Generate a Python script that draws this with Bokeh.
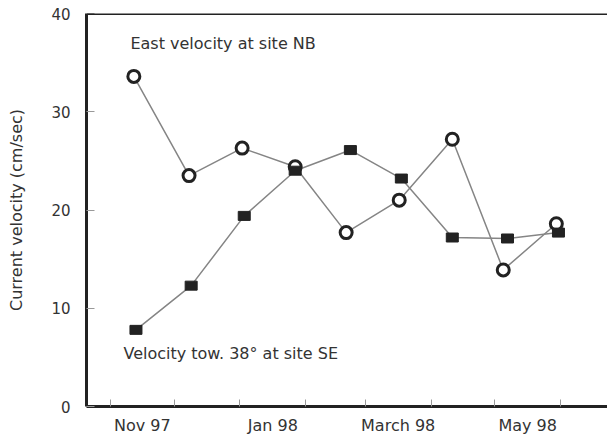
import pandas as pd
from bokeh.plotting import figure
from bokeh.models import FixedTicker, Range1d, Span, Label
from bokeh.embed import file_html
from bokeh.resources import INLINE

# Sampling dates and current velocities (cm/sec)
dates_nb = ["1997-11-12", "1997-12-08", "1998-01-02", "1998-01-27", "1998-02-20",
            "1998-03-17", "1998-04-11", "1998-05-05", "1998-05-30"]
east_nb = [33.6, 23.5, 26.3, 24.4, 17.7, 21.0, 27.2, 13.9, 18.6]

dates_se = ["1997-11-13", "1997-12-09", "1998-01-03", "1998-01-27", "1998-02-22",
            "1998-03-18", "1998-04-11", "1998-05-07", "1998-05-31"]
tow38_se = [7.8, 12.3, 19.4, 24.0, 26.1, 23.2, 17.2, 17.1, 17.7]

month_starts = ["1997-11-01", "1997-12-01", "1998-01-01", "1998-02-01",
                "1998-03-01", "1998-04-01", "1998-05-01", "1998-06-01"]
month_labels = {"1997-11-01": "Nov 97", "1998-01-01": "Jan 98",
                "1998-03-01": "March 98", "1998-05-01": "May 98"}

origin = pd.Timestamp("1997-11-01")


def to_days(ds):
    return [float((pd.Timestamp(d) - origin).days) for d in ds]


x_nb = to_days(dates_nb)
x_se = to_days(dates_se)
starts = to_days(month_starts)

# month labels sit in the middle of their month
label_pos = {}
for i, m in enumerate(month_starts[:-1]):
    if m in month_labels:
        label_pos[(starts[i] + starts[i + 1]) / 2.0] = month_labels[m]

FONT = "DejaVu Sans"
INK = "#222222"
TXT = "#333333"

p = figure(width=607, height=437, output_backend="svg", toolbar_location=None,
           x_range=Range1d(-11.3, 234.1), y_range=Range1d(0, 40),
           min_border_left=86, min_border_right=0, min_border_top=13,
           min_border_bottom=31)
p.outline_line_color = None
p.grid.grid_line_color = None
p.background_fill_color = "white"

# connecting lines
p.line(x_nb, east_nb, line_color="#858585", line_width=1.5)
p.line(x_se, tow38_se, line_color="#858585", line_width=1.5)

# open circles: east velocity at NB
p.scatter(x_nb, east_nb, marker="circle", size=12, fill_color="white",
          line_color=INK, line_width=3)
# filled squares: velocity toward 38 deg at SE
p.rect(x_se, tow38_se, width=12, height=9, width_units="screen",
       height_units="screen", fill_color=INK, line_color=INK)

# y axis
ya = p.yaxis[0]
ya.ticker = FixedTicker(ticks=[0, 10, 20, 30, 40])
ya.axis_line_width = 3
ya.axis_line_color = INK
ya.major_tick_in = 8
ya.major_tick_out = 0
ya.major_tick_line_color = "#999999"
ya.minor_tick_line_color = None
ya.major_label_text_font = FONT
ya.major_label_text_font_size = "15px"
ya.major_label_text_color = TXT
ya.major_label_standoff = 16
ya.axis_label = "Current velocity (cm/sec)"
ya.axis_label_text_font = FONT
ya.axis_label_text_font_size = "16px"
ya.axis_label_text_font_style = "normal"
ya.axis_label_text_color = TXT
ya.axis_label_standoff = 22

# x axis: month boundaries as small inner ticks, labels mid-month
xa = p.xaxis[0]
xa.ticker = FixedTicker(ticks=list(label_pos.keys()), minor_ticks=starts)
xa.major_label_overrides = label_pos
xa.axis_line_width = 3
xa.axis_line_color = INK
xa.major_tick_in = 0
xa.major_tick_out = 0
xa.minor_tick_in = 7
xa.minor_tick_out = 0
xa.minor_tick_line_color = "#999999"
xa.major_label_text_font = FONT
xa.major_label_text_font_size = "16px"
xa.major_label_text_color = TXT
xa.major_label_standoff = 9

# top border line
p.add_layout(Span(location=40, dimension="width", line_color=INK, line_width=3))

p.add_layout(Label(x=9.4, y=36.9, text="East velocity at site NB",
                   text_font=FONT, text_font_size="16px", text_color=TXT,
                   text_baseline="middle"))
p.add_layout(Label(x=6.1, y=5.4, text="Velocity tow. 38° at site SE",
                   text_font=FONT, text_font_size="16px", text_color=TXT,
                   text_baseline="middle"))

open("out.html", "w").write(file_html(p, INLINE))
